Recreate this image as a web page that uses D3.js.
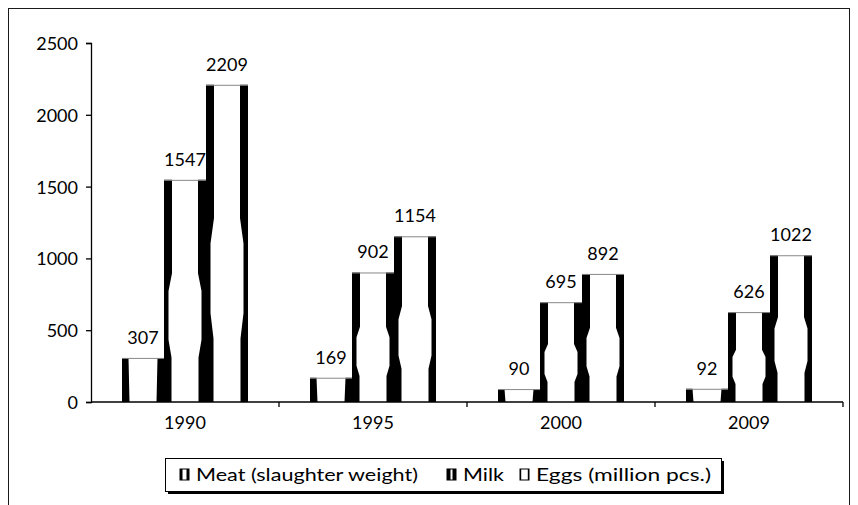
<!DOCTYPE html>
<html>
<head>
<meta charset="utf-8">
<script src="https://cdn.jsdelivr.net/npm/d3@7"></script>
<style>
  html, body { margin: 0; padding: 0; background: #fff; }
  svg { display: block; font-family: Lato, "Liberation Sans", sans-serif; }
</style>
</head>
<body>
<svg id="chart" width="858" height="505"></svg>
<script>
// Livestock production by year
const years = ["1990", "1995", "2000", "2009"];
const seriesNames = ["Meat (slaughter weight)", "Milk", "Eggs (million pcs.)"];
const meat = [307, 169, 90, 92];
const milk = [1547, 902, 695, 626];
const eggs = [2209, 1154, 892, 1022];
const yTicks = [0, 500, 1000, 1500, 2000, 2500];

const seriesValues = [meat, milk, eggs];

const svg = d3.select("#chart");
const plot = { left: 91, right: 843, top: 43, bottom: 402 };
const FONT = 18;

// outer frame
svg.append("rect")
  .attr("x", 8.5).attr("y", 8.5)
  .attr("width", 841).attr("height", 520)
  .attr("fill", "none").attr("stroke", "#1a1a1a").attr("stroke-width", 1);

const x = d3.scaleBand().domain(years).range([plot.left, plot.right]).padding(0);
const inner = d3.scaleBand().domain(seriesNames).range([31, 157]).padding(0);
const y = d3.scaleLinear().domain([0, 2500]).range([plot.bottom, plot.top]);

// y axis
const yAxis = svg.append("g").attr("transform", `translate(${plot.left},0)`)
  .call(d3.axisLeft(y).tickValues(yTicks).tickSize(5).tickPadding(8).tickFormat(d3.format("d")));
yAxis.select(".domain").attr("stroke", "#000").attr("stroke-width", 1.3);
yAxis.selectAll(".tick line").attr("stroke", "#000").attr("stroke-width", 1.3);
yAxis.selectAll("text").attr("font-size", FONT).attr("fill", "#000")
  .attr("font-family", "Lato, sans-serif").attr("dy", "0.36em");

// bars: white body with dark shaded sides
const tallProfile = [[0, 8], [0.42, 8], [0.5, 4.5], [0.72, 4.5], [0.8, 7.5], [1, 7.5]];
const shortProfile = [[0, 6.5], [1, 7.5]];
function sidePath(x0, top, bottom, dir, profile) {
  const h = bottom - top;
  const pts = profile.map(([t, w]) => [x0 + dir * w, top + t * h]);
  return d3.line()(pts.concat([[x0, bottom], [x0, top]])) + "Z";
}

const groups = svg.append("g").selectAll("g")
  .data(years).join("g")
  .attr("transform", d => `translate(${x(d)},0)`);

seriesNames.forEach((name, si) => {
  groups.each(function(yr, yi) {
    const g = d3.select(this);
    const v = seriesValues[si][yi];
    const bx = inner(name), bw = inner.bandwidth();
    const top = y(v), bottom = y(0);
    const profile = (bottom - top) > 80 ? tallProfile : shortProfile;
    g.append("rect").attr("x", bx).attr("y", top).attr("width", bw).attr("height", bottom - top)
      .attr("fill", "#fff");
    g.append("path").attr("d", sidePath(bx, top, bottom, 1, profile)).attr("fill", "#000");
    g.append("path").attr("d", sidePath(bx + bw, top, bottom, -1, profile)).attr("fill", "#000");
    g.append("line").attr("x1", bx).attr("x2", bx + bw).attr("y1", top + 0.5).attr("y2", top + 0.5)
      .attr("stroke", "#888").attr("stroke-width", 1);
    g.append("text").attr("x", bx + bw / 2).attr("y", top - 14)
      .attr("text-anchor", "middle").attr("font-size", FONT).attr("fill", "#000")
      .text(v);
  });
});

// x axis
const xAxis = svg.append("g").attr("transform", `translate(0,${plot.bottom})`);
xAxis.append("line").attr("x1", plot.left).attr("x2", plot.right).attr("y1", 0).attr("y2", 0)
  .attr("stroke", "#000").attr("stroke-width", 1.3);
xAxis.selectAll("line.tk").data(years).join("line").attr("class", "tk")
  .attr("x1", d => x(d) + x.bandwidth()).attr("x2", d => x(d) + x.bandwidth())
  .attr("y1", 0).attr("y2", 5).attr("stroke", "#000").attr("stroke-width", 1.3);
xAxis.selectAll("text").data(years).join("text")
  .attr("x", d => x(d) + x.bandwidth() / 2).attr("y", 27)
  .attr("text-anchor", "middle").attr("font-size", FONT).attr("fill", "#000").text(d => d);

// legend
const legend = svg.append("g");
legend.append("rect").attr("x", 168).attr("y", 461).attr("width", 556).attr("height", 33).attr("fill", "#000");
legend.append("rect").attr("x", 165.5).attr("y", 458.5).attr("width", 556).attr("height", 33)
  .attr("fill", "#fff").attr("stroke", "#000").attr("stroke-width", 1);
const legendX = [180, 447, 520];
const legendTextWidth = [222, 41, 175];
seriesNames.forEach((name, i) => {
  const lx = legendX[i];
  const sw = i === 1 ? 3.5 : (i === 0 ? 2.5 : 1.2);
  legend.append("rect").attr("x", lx).attr("y", 469).attr("width", 9).attr("height", 11).attr("fill", "#fff")
    .attr("stroke", "#000").attr("stroke-width", 1);
  legend.append("rect").attr("x", lx).attr("y", 469).attr("width", sw).attr("height", 11).attr("fill", "#000");
  legend.append("rect").attr("x", lx + 9 - sw).attr("y", 469).attr("width", sw).attr("height", 11).attr("fill", "#000");
  legend.append("text").attr("x", lx + 16).attr("y", 481).attr("font-size", FONT).attr("fill", "#000")
    .attr("textLength", legendTextWidth[i]).attr("lengthAdjust", "spacingAndGlyphs")
    .text(name);
});
</script>
</body>
</html>
